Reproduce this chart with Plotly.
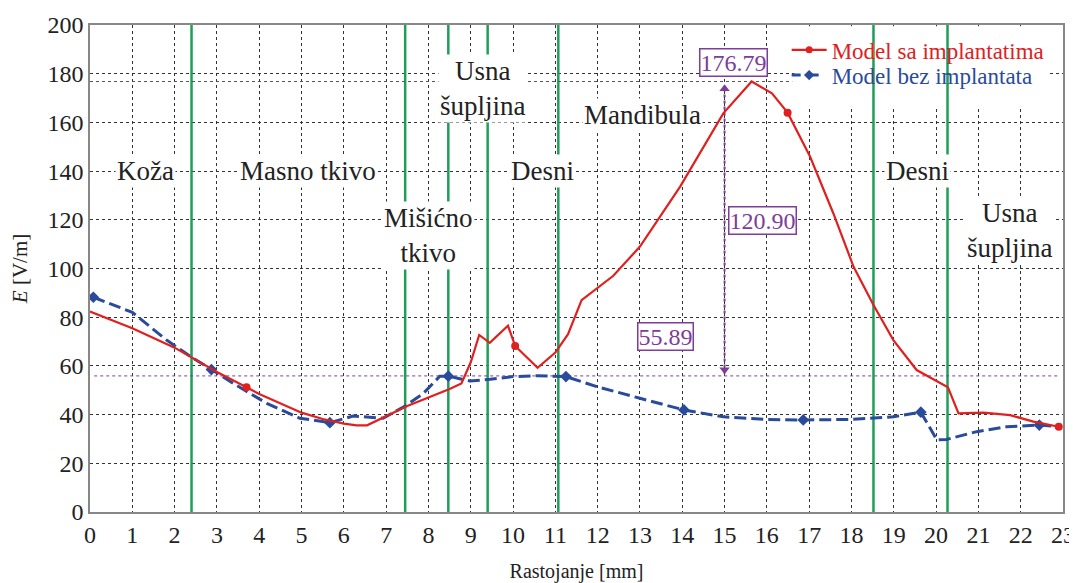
import plotly.graph_objects as go

# Data
x_red = [0, 1, 2, 2.4, 3, 3.7, 4, 5, 5.5, 6, 6.3, 6.55, 7, 7.5, 8, 8.5, 8.78, 9.0, 9.2, 9.45, 9.88, 10.05,
         10.58, 11.0, 11.3, 11.62, 12.37, 13.0, 13.95, 14.97, 15.64, 16.12, 16.49, 17.02, 17.57, 18.05, 18.52,
         18.99, 19.54, 20.02, 20.28, 20.53, 21.12, 21.75, 22.3, 22.9]
y_red = [82.3, 75.5, 67.5, 63.5, 57.5, 51.2, 48.5, 40.8, 38.2, 36.3, 35.6, 35.6, 39.5, 43.5, 47.0, 50.5, 52.8, 61.5,
         72.7, 69.5, 76.5, 68.2, 59.2, 65.5, 73.0, 87.0, 97.0, 109.0, 133.6, 163.7, 176.79, 171.9, 164.0, 146.0,
         122.7, 100.7, 85.0, 70.6, 58.3, 53.5, 51.2, 40.5, 40.8, 39.8, 37.1, 35.0]
x_red_mk = [3.7, 10.05, 16.49, 22.9]
y_red_mk = [51.2, 68.2, 164.0, 35.0]

x_blue = [0.08, 1.0, 1.81, 2.4, 2.87, 3.39, 4.18, 4.96, 5.67, 6.22, 6.54, 6.93, 7.45, 7.88, 8.27, 8.47, 8.98,
          9.46, 10.0, 10.56, 11.25, 11.98, 13.0, 14.04, 14.97, 16.0, 16.86, 17.97, 19.0, 19.64, 20.02, 20.25,
          20.96, 21.67, 22.44, 22.93]
y_blue = [88.2, 82.0, 70.6, 63.6, 58.5, 52.8, 44.6, 38.5, 36.7, 39.4, 39.0, 38.5, 43.5, 48.7, 55.8, 55.8, 53.8,
          54.5, 55.6, 56.0, 55.6, 51.5, 46.7, 41.9, 39.1, 38.0, 37.8, 38.0, 39.1, 41.0, 29.6, 29.8, 33.0, 35.0,
          35.7, 35.0]
x_blue_mk = [0.08, 2.87, 5.67, 8.47, 11.25, 14.04, 16.86, 19.64, 22.44]
y_blue_mk = [88.2, 58.5, 36.7, 55.8, 55.6, 41.9, 37.8, 41.0, 35.7]

boundaries = [2.4, 7.45, 8.47, 9.4, 11.07, 18.52, 20.27]

region_labels = ["Koža", "Masno tkivo", "Mišićno<br>tkivo", "Usna<br>šupljina", "Desni", "Mandibula",
                 "Desni", "Usna<br>šupljina"]
region_x = [1.31, 5.16, 8.0, 9.3, 10.7, 13.07, 19.55, 21.75]
region_y = [140, 140, 113.5, 174, 140, 163, 140, 115.5]

min_val = 55.89
max_val = 176.79
diff_val = 120.90
marker_x = 15

RED = "#e0201e"
BLUE = "#2a4b9b"
GREEN = "#1f9e5a"
PURPLE = "#7d3d99"
FONT = "Liberation Serif, Times New Roman, DejaVu Serif, serif"
BLUE_DASH = "12px,5px"

fig = go.Figure()

shapes = [dict(type="rect", xref="x", yref="y", x0=16.65, x1=22.65, y0=166.5, y1=199.5,
               fillcolor="white", line=dict(width=0), layer="between")]
for b in boundaries:
    shapes.append(dict(type="line", xref="x", yref="y", x0=b, x1=b, y0=0, y1=200,
                       line=dict(color=GREEN, width=2.5), layer="between"))
shapes.append(dict(type="line", xref="x", yref="y", x0=0.1, x1=22.9, y0=min_val, y1=min_val,
                   line=dict(color=PURPLE, width=1, dash="dot"), layer="between"))
shapes.append(dict(type="line", xref="x", yref="y", x0=0, x1=16.6, y0=max_val, y1=max_val,
                   line=dict(color="#555555", width=1, dash="dot"), layer="between"))
shapes.append(dict(type="line", xref="x", yref="y", x0=marker_x, x1=marker_x, y0=min_val + 1, y1=max_val - 2,
                   line=dict(color=PURPLE, width=2, dash="dot"), layer="between"))

fig.add_trace(go.Scatter(x=x_blue, y=y_blue, mode="lines", line=dict(color=BLUE, width=3, dash=BLUE_DASH),
                         showlegend=False, hoverinfo="skip"))
fig.add_trace(go.Scatter(x=x_blue_mk, y=y_blue_mk, mode="markers",
                         marker=dict(symbol="diamond", size=9, color=BLUE), showlegend=False))
fig.add_trace(go.Scatter(x=x_red, y=y_red, mode="lines", line=dict(color=RED, width=2.2),
                         showlegend=False, hoverinfo="skip"))
fig.add_trace(go.Scatter(x=x_red_mk, y=y_red_mk, mode="markers",
                         marker=dict(symbol="circle", size=8, color=RED), showlegend=False))
fig.add_trace(go.Scatter(x=[marker_x, marker_x], y=[max_val - 3, min_val + 2.5], mode="markers",
                         marker=dict(symbol=["triangle-up", "triangle-down"], size=9, color=PURPLE),
                         showlegend=False, hoverinfo="skip"))

fig.add_trace(go.Scatter(x=[None], y=[None], mode="lines+markers", legend="legend",
                         name=f'<span style="color:{RED}">Model sa implantatima</span>',
                         line=dict(color=RED, width=2.2), marker=dict(symbol="circle", size=7, color=RED)))
fig.add_trace(go.Scatter(x=[None], y=[None], mode="lines+markers", legend="legend2",
                         name=f'<span style="color:{BLUE}">Model bez implantata</span>',
                         line=dict(color=BLUE, width=3, dash="dash"),
                         marker=dict(symbol="diamond", size=8, color=BLUE)))

annotations = []
for t, xx, yy in zip(region_labels, region_x, region_y):
    annotations.append(dict(x=xx, y=yy, xref="x", yref="y", text=t, showarrow=False,
                            font=dict(family=FONT, size=27, color="#222222"), bgcolor="white",
                            borderpad=1))
for t, xx, yy in [(f"{max_val:.2f}", 15.2, 184.8), (f"{diff_val:.2f}", 15.9, 119.6), (f"{min_val:.2f}", 13.6, 71.9)]:
    annotations.append(dict(x=xx, y=yy, xref="x", yref="y", text=t, showarrow=False,
                            font=dict(family=FONT, size=24, color=PURPLE), bgcolor="white",
                            bordercolor=PURPLE, borderwidth=1.5, borderpad=0))

legend_common = dict(x=0.716, xanchor="left", yanchor="middle", bgcolor="rgba(0,0,0,0)",
                     font=dict(family=FONT, size=23), itemwidth=35)

fig.update_layout(
    width=1069, height=575,
    margin=dict(l=82, r=14, t=17, b=71, autoexpand=False),
    paper_bgcolor="white", plot_bgcolor="white",
    font=dict(family=FONT, size=20, color="#222222"),
    shapes=shapes, annotations=annotations,
    legend=dict(y=0.949, **legend_common),
    legend2=dict(y=0.897, **legend_common),
    xaxis=dict(range=[0, 23], dtick=1, tick0=0, showgrid=True, gridcolor="#333333", griddash="dot",
               gridwidth=1, showline=True, linecolor="#888888", linewidth=1.5, mirror=True,
               ticks="", zeroline=False, tickfont=dict(family=FONT, size=24), automargin=False,
               title=dict(text="Rastojanje [mm]", font=dict(family=FONT, size=20), standoff=18)),
    yaxis=dict(range=[0, 200], dtick=20, tick0=0, showgrid=True, gridcolor="#333333", griddash="dot",
               gridwidth=1, showline=True, linecolor="#888888", linewidth=1.5, mirror=True,
               ticks="", zeroline=False, tickfont=dict(family=FONT, size=24), automargin=False,
               title=dict(text="<i>E</i> [V/m]", font=dict(family=FONT, size=21), standoff=14)),
)

fig.write_html("out.html")
